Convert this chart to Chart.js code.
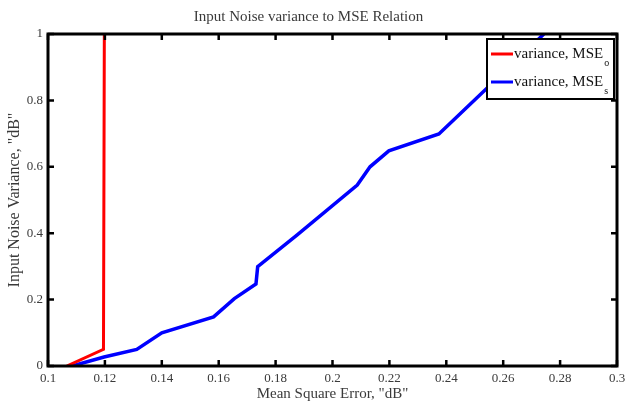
<!DOCTYPE html>
<html>
<head>
<meta charset="utf-8">
<script src="https://cdn.jsdelivr.net/npm/chart.js@4.4.1/dist/chart.umd.min.js"></script>
<style>
  html, body { margin: 0; padding: 0; background: #fff; }
  #wrap { width: 625px; height: 408px; }
</style>
</head>
<body>
<div id="wrap"><canvas id="myChart" width="625" height="408"></canvas></div>
<script>
const xTicks = [0.1, 0.12, 0.14, 0.16, 0.18, 0.2, 0.22, 0.24, 0.26, 0.28, 0.3];
const xTickLabels = ['0.1', '0.12', '0.14', '0.16', '0.18', '0.2', '0.22', '0.24', '0.26', '0.28', '0.3'];
const yTicks = [0, 0.2, 0.4, 0.6, 0.8, 1];
const yTickLabels = ['0', '0.2', '0.4', '0.6', '0.8', '1'];

// red curve (MSE_o)
const mseO = [0.1066, 0.1195, 0.1198];
const varO = [0, 0.05, 1];
// blue curve (MSE_s)
const mseS = [0.1085, 0.1197, 0.1312, 0.1400, 0.1582, 0.1655, 0.1731, 0.1737, 0.1876, 0.2087, 0.2132, 0.2198, 0.2374, 0.2743];
const varS = [0, 0.027, 0.05, 0.1, 0.148, 0.203, 0.247, 0.299, 0.395, 0.545, 0.6, 0.648, 0.699, 1];

const legendText = ['variance, MSE', 'variance, MSE'];
const legendSub = ['o', 's'];

const serif = '"Liberation Serif", "DejaVu Serif", serif';
const textColor = '#3a3a3a';

const toPoints = (xs, ys) => xs.map((x, i) => ({ x: x, y: ys[i] }));

const framePlugin = {
  id: 'frame',
  afterDraw(chart) {
    const ctx = chart.ctx;
    const a = chart.chartArea;
    const xs = chart.scales.x;
    const ys = chart.scales.y;
    ctx.save();

    // legend box
    const lx = 487, ly = 39, lw = 127, lh = 60;
    ctx.fillStyle = '#fff';
    ctx.fillRect(lx, ly, lw, lh);
    ctx.strokeStyle = '#000';
    ctx.lineWidth = 2;
    ctx.strokeRect(lx, ly, lw, lh);
    chart.data.datasets.forEach((ds, i) => {
      const y = ly + 15 + i * 28;
      ctx.strokeStyle = ds.borderColor;
      ctx.lineWidth = 3;
      ctx.beginPath();
      ctx.moveTo(lx + 4, y);
      ctx.lineTo(lx + 26, y);
      ctx.stroke();
      ctx.fillStyle = '#111';
      ctx.font = '15px ' + serif;
      ctx.textBaseline = 'middle';
      ctx.textAlign = 'left';
      ctx.fillText(legendText[i], lx + 27, y);
      const w = ctx.measureText(legendText[i]).width;
      ctx.font = '10px ' + serif;
      ctx.fillText(legendSub[i], lx + 27 + w + 1, y + 9);
    });

    // axes frame
    ctx.strokeStyle = '#000';
    ctx.lineWidth = 3;
    ctx.strokeRect(a.left, a.top, a.right - a.left, a.bottom - a.top);

    // inward ticks on all four sides
    ctx.lineWidth = 2.5;
    ctx.beginPath();
    xTicks.forEach(v => {
      const px = xs.getPixelForValue(v);
      ctx.moveTo(px, a.bottom);
      ctx.lineTo(px, a.bottom - 6);
      ctx.moveTo(px, a.top);
      ctx.lineTo(px, a.top + 6);
    });
    yTicks.forEach(v => {
      const py = ys.getPixelForValue(v);
      ctx.moveTo(a.left, py);
      ctx.lineTo(a.left + 6, py);
      ctx.moveTo(a.right, py);
      ctx.lineTo(a.right - 6, py);
    });
    ctx.stroke();
    ctx.restore();
  }
};

new Chart(document.getElementById('myChart'), {
  type: 'line',
  data: {
    datasets: [
      {
        label: 'variance, MSE_o',
        data: toPoints(mseO, varO),
        borderColor: '#ff0000',
        borderWidth: 3,
        pointRadius: 0,
        tension: 0
      },
      {
        label: 'variance, MSE_s',
        data: toPoints(mseS, varS),
        borderColor: '#0000ff',
        borderWidth: 3.5,
        pointRadius: 0,
        tension: 0
      }
    ]
  },
  options: {
    responsive: false,
    animation: false,
    layout: { padding: { left: 0, right: 8, top: 0, bottom: 0 } },
    plugins: {
      legend: { display: false },
      tooltip: { enabled: false },
      title: {
        display: true,
        text: 'Input Noise variance to MSE Relation',
        color: textColor,
        font: { family: serif, size: 15, weight: 'normal' },
        padding: { top: 8, bottom: 8 }
      }
    },
    scales: {
      x: {
        type: 'linear',
        min: 0.1,
        max: 0.3,
        afterBuildTicks: s => { s.ticks = xTicks.map(v => ({ value: v })); },
        afterFit: s => { s.height = 42; s.paddingLeft = 0; s.paddingRight = 0; },
        grid: { display: false, drawTicks: false },
        border: { display: false },
        ticks: {
          autoSkip: false,
          maxRotation: 0,
          padding: 5,
          color: textColor,
          font: { family: serif, size: 13 },
          callback: (v, i) => xTickLabels[i]
        },
        title: {
          display: true,
          text: 'Mean Square Error, "dB"',
          color: textColor,
          font: { family: serif, size: 15 },
          padding: { top: 0, bottom: 5 }
        }
      },
      y: {
        type: 'linear',
        min: 0,
        max: 1,
        afterBuildTicks: s => { s.ticks = yTicks.map(v => ({ value: v })); },
        afterFit: s => { s.width = 48; },
        grid: { display: false, drawTicks: false },
        border: { display: false },
        ticks: {
          autoSkip: false,
          padding: 5,
          color: textColor,
          font: { family: serif, size: 13 },
          callback: (v, i) => yTickLabels[i]
        },
        title: {
          display: true,
          text: 'Input Noise Variance, "dB"',
          color: textColor,
          font: { family: serif, size: 16 },
          padding: { top: 5, bottom: 0 }
        }
      }
    }
  },
  plugins: [framePlugin]
});
</script>
</body>
</html>
